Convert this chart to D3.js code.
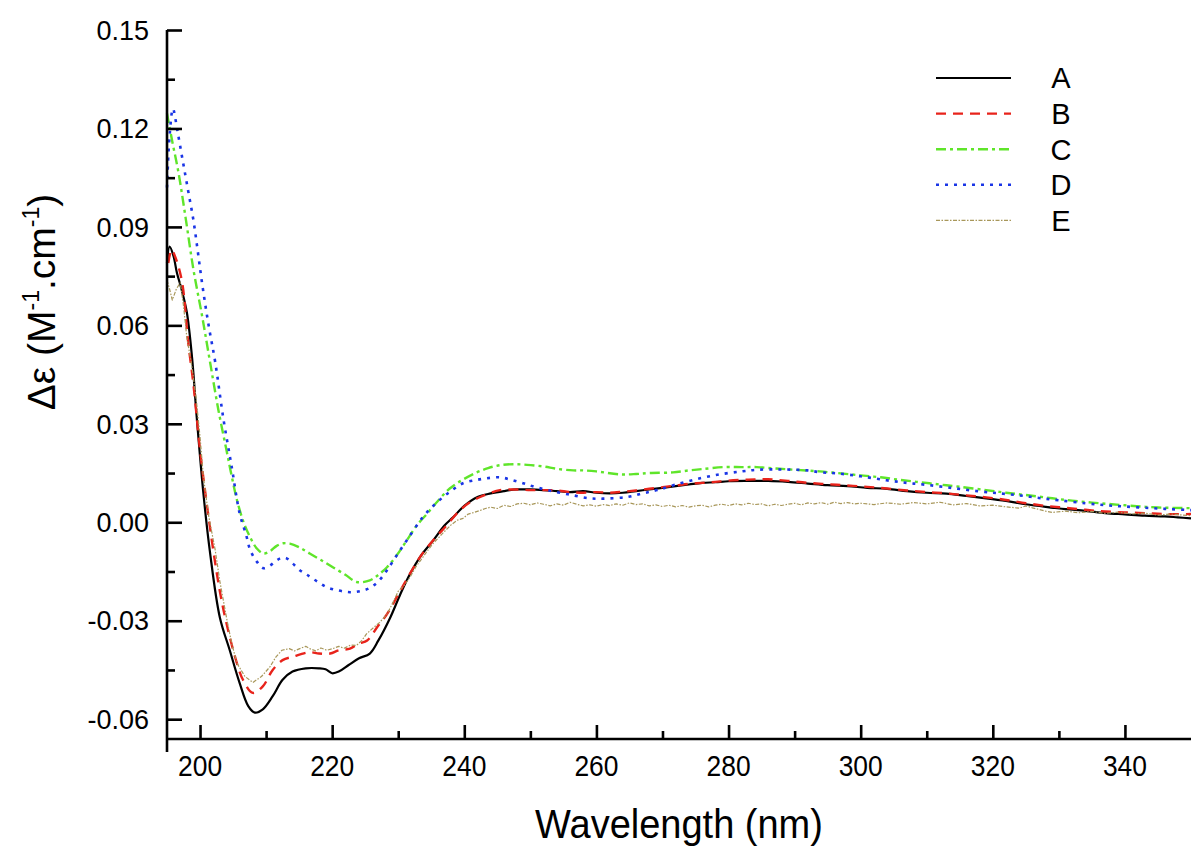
<!DOCTYPE html>
<html><head><meta charset="utf-8">
<script src="https://cdn.jsdelivr.net/npm/d3@7"></script>
<style>body{margin:0;background:#fff}svg{display:block}</style>
</head><body>
<svg id="chart" width="1194" height="859"></svg>
<script>
// ---- data ----
const seriesNames = ["A","B","C","D","E"];
const xTicksMajor = [200,220,240,260,280,300,320,340];
const yTicksMajor = [-0.06,-0.03,0.00,0.03,0.06,0.09,0.12,0.15];
const yTickLabels = ["-0.06","-0.03","0.00","0.03","0.06","0.09","0.12","0.15"];

const seriesA = [[195,0.079],[195.4,0.084],[196,0.081],[196.5,0.076],[197.2,0.071],[198,0.064],[198.8,0.050],[199.5,0.032],[200.5,0.009],[201.5,-0.009],[203,-0.029],[204.5,-0.039],[206,-0.049],[207.3,-0.056],[208.3,-0.058],[209.5,-0.057],[211,-0.053],[212.5,-0.048],[214,-0.0455],[216,-0.0445],[218,-0.0445],[219,-0.0448],[220,-0.046],[221,-0.0455],[222.5,-0.0435],[224,-0.0415],[225.7,-0.040],[227,-0.036],[228.8,-0.029],[230.3,-0.022],[231.8,-0.0157],[233.5,-0.010],[235.3,-0.0055],[237,-0.001],[238.3,0.0015],[240,0.005],[242,0.0077],[244,0.0088],[246,0.0095],[248,0.010],[250,0.010],[252,0.0098],[254,0.0095],[256,0.0092],[258,0.0095],[260,0.009],[262,0.0088],[264,0.009],[266,0.0095],[268,0.010],[270,0.0105],[272,0.011],[274,0.0115],[276,0.012],[278,0.0122],[280,0.0125],[283,0.0126],[286,0.0126],[289,0.0123],[292,0.0118],[295,0.0113],[298,0.011],[301,0.0105],[304,0.0102],[307,0.0095],[310,0.009],[313,0.0087],[316,0.008],[319,0.0073],[322,0.0065],[325,0.0055],[328,0.0047],[331,0.004],[334,0.0035],[337,0.0028],[340,0.0024],[343,0.002],[346,0.0018],[348,0.0015],[350,0.0012]];

const seriesB = [[195.2,0.079],[195.7,0.083],[196.4,0.080],[197.3,0.073],[198.2,0.055],[199,0.042],[200,0.022],[200.8,0.009],[202,-0.0085],[203,-0.021],[203.8,-0.029],[205.3,-0.041],[206.5,-0.048],[208,-0.052],[209.5,-0.050],[211,-0.045],[212.5,-0.042],[214,-0.041],[216.6,-0.0396],[218,-0.040],[219.7,-0.040],[221,-0.039],[222.7,-0.0385],[224,-0.037],[225.3,-0.036],[226.8,-0.032],[228.3,-0.028],[230,-0.022],[231.8,-0.0156],[233.5,-0.010],[235.3,-0.0055],[237.3,-0.001],[239.3,0.0036],[240.8,0.006],[242.4,0.0077],[244,0.009],[245.4,0.0098],[248,0.010],[250,0.0098],[252,0.0098],[254,0.0097],[256,0.0092],[258,0.009],[260,0.0092],[262,0.009],[264,0.0093],[266,0.0097],[268,0.0102],[270,0.0107],[272,0.0112],[274,0.0117],[276,0.012],[278,0.0123],[280,0.0127],[283,0.013],[286,0.0131],[289,0.0126],[292,0.012],[295,0.0116],[298,0.0112],[301,0.0108],[304,0.0103],[307,0.0097],[310,0.0092],[313,0.0088],[316,0.0082],[319,0.0076],[322,0.0068],[325,0.0058],[328,0.005],[331,0.0044],[334,0.0038],[337,0.0033],[340,0.003],[343,0.0028],[346,0.0025],[350,0.0025]];

const seriesC = [[195,0.1246],[195.8,0.116],[196.7,0.107],[197.8,0.093],[199,0.077],[200.3,0.063],[201.5,0.049],[202.8,0.034],[204,0.022],[204.8,0.014],[205.6,0.0067],[206.6,0.0],[207.6,-0.0046],[208.6,-0.008],[209.6,-0.0095],[210.6,-0.0088],[211.6,-0.0072],[212.6,-0.0064],[213.6,-0.0065],[215,-0.0076],[216.6,-0.0095],[218.3,-0.0115],[220.1,-0.0137],[222,-0.016],[223.7,-0.0182],[225.7,-0.0177],[227,-0.016],[228.3,-0.0137],[229.8,-0.010],[231.3,-0.0055],[232.8,-0.001],[234.4,0.0027],[236,0.0065],[237.8,0.0103],[239.8,0.013],[241.9,0.0152],[243.6,0.0165],[245.4,0.0174],[247.4,0.0177],[249.5,0.0175],[252,0.017],[254,0.0163],[256.5,0.0158],[258,0.0158],[260,0.0155],[263.6,0.0146],[266,0.0147],[268,0.015],[271.6,0.0152],[274,0.0158],[276,0.0162],[279.2,0.0168],[282,0.0168],[284.3,0.0168],[287,0.0164],[290,0.016],[293.8,0.0155],[296.4,0.015],[300,0.0143],[303,0.0137],[306,0.0129],[309,0.0122],[312,0.0115],[315,0.0108],[319,0.0098],[322,0.009],[325,0.0083],[329,0.0073],[332,0.0066],[335,0.006],[338,0.0055],[341.8,0.0049],[345,0.0045],[350,0.0043]];

const seriesD = [[195,0.102],[195.4,0.118],[195.9,0.126],[196.6,0.119],[197.4,0.110],[198.2,0.101],[199,0.092],[200.4,0.0716],[201.3,0.060],[202.3,0.0488],[203.5,0.032],[204.8,0.0168],[206,0.0027],[207,-0.004],[207.6,-0.0085],[208.6,-0.012],[209.6,-0.014],[210.6,-0.0132],[211.6,-0.0116],[212.4,-0.0108],[213.1,-0.011],[214,-0.0125],[215.1,-0.0146],[216.2,-0.016],[217.7,-0.018],[219.2,-0.0198],[221,-0.0208],[222.7,-0.0213],[224.2,-0.021],[225.7,-0.020],[227,-0.018],[228.3,-0.0146],[229.8,-0.010],[231.3,-0.0055],[233.7,0.0015],[235.3,0.005],[236.8,0.0077],[238.3,0.010],[239.8,0.0119],[241.6,0.0128],[243.4,0.0134],[245.4,0.0137],[247,0.013],[248.9,0.0119],[251,0.0106],[254,0.0092],[256.5,0.0082],[259,0.0073],[261,0.0072],[264.6,0.0077],[267,0.0088],[269.2,0.0098],[272,0.0115],[275.7,0.0134],[279,0.0147],[282,0.0155],[284.3,0.016],[288,0.0161],[291.9,0.0158],[294,0.0152],[296.4,0.0149],[300,0.014],[303.9,0.0128],[307,0.012],[310,0.0114],[314,0.0104],[318,0.0094],[321,0.0088],[324,0.0082],[327,0.0074],[330,0.0067],[334,0.0058],[337,0.0052],[340,0.0048],[344,0.0043],[347,0.004],[350,0.0037]];

const seriesE = [[195,0.0738],[195.4,0.071],[195.8,0.0677],[196.4,0.071],[197,0.073],[197.5,0.066],[198,0.0564],[198.8,0.047],[199.4,0.038],[200,0.026],[200.5,0.014],[201.3,0.002],[202.3,-0.0085],[203,-0.018],[204,-0.029],[204.8,-0.037],[205.6,-0.043],[206.8,-0.047],[208,-0.0488],[209.3,-0.047],[210.6,-0.044],[211.5,-0.041],[212.4,-0.039],[213.5,-0.0385],[214.3,-0.0392],[215.1,-0.0385],[216,-0.0378],[216.6,-0.0385],[217.5,-0.0392],[218.3,-0.0383],[219.2,-0.039],[220.1,-0.0385],[221,-0.0378],[221.8,-0.0384],[222.8,-0.0374],[223.7,-0.0375],[224.5,-0.036],[225.2,-0.034],[226.2,-0.0322],[227.2,-0.0305],[228.3,-0.028],[229.2,-0.0245],[230,-0.021],[231,-0.019],[231.8,-0.0167],[232.7,-0.0135],[233.6,-0.011],[234.5,-0.0085],[235.3,-0.0064],[236.2,-0.0045],[237,-0.0028],[238,-0.0008],[238.9,0.0006],[239.8,0.0012],[240.6,0.0025],[241.5,0.003],[242.4,0.0036],[243.2,0.0042],[244,0.0046],[245,0.0042],[246,0.0052],[247,0.0048],[248,0.0056],[249,0.0058],[250,0.0053],[251,0.0059],[252,0.0055],[253,0.005],[254,0.0056],[255,0.0052],[256,0.0061],[257,0.0055],[258,0.005],[259,0.0053],[260,0.0049],[261,0.0054],[262,0.0051],[263,0.0056],[264,0.0052],[265,0.0059],[266,0.0054],[267,0.0056],[268,0.005],[269,0.0053],[270,0.0048],[271,0.0052],[272,0.0047],[273,0.0051],[274,0.0046],[275,0.005],[276,0.0052],[277,0.0047],[278,0.0052],[279,0.0055],[280,0.0051],[281,0.0056],[282,0.0053],[283,0.0058],[284,0.0054],[285,0.0056],[286,0.005],[287,0.0055],[288,0.0051],[289,0.0055],[290,0.0058],[291,0.0053],[292,0.0059],[293,0.0056],[294,0.006],[295,0.0055],[296,0.0061],[297,0.0057],[298,0.006],[299,0.0056],[300,0.0058],[302,0.0054],[304,0.0059],[306,0.0055],[308,0.006],[310,0.0056],[312,0.0061],[314,0.0053],[316,0.0057],[318,0.005],[320,0.0052],[322,0.0047],[324,0.0043],[325,0.005],[326,0.0044],[328,0.0034],[329,0.003],[331,0.0034],[333,0.0029],[335,0.0033],[337,0.0027],[339,0.0031],[341,0.0025],[343,0.0028],[345,0.0022],[347,0.0025],[350,0.002]];

// ---- styles ----
const styles = [
  {color:"#000000", width:2.2, dash:null, curve:d3.curveCatmullRom},
  {color:"#e8231b", width:2.4, dash:"10,7", curve:d3.curveCatmullRom},
  {color:"#5fe52a", width:2.4, dash:"10,4,3,4", curve:d3.curveCatmullRom},
  {color:"#1a35e6", width:2.6, dash:"3,6", curve:d3.curveCatmullRom},
  {color:"#a8975a", width:1.2, dash:"4,1.5,1.5,1.5", curve:d3.curveLinear}
];
const allSeries = [seriesA, seriesB, seriesC, seriesD, seriesE];

const svg = d3.select("#chart");
const x = d3.scaleLinear().domain([195,350]).range([167,1191]);
const y = d3.scaleLinear().domain([-0.07,0.15]).range([752,30]);
const xAxisY = 739;
const FONT = "Liberation Sans, Arial, sans-serif";

const plot = svg.append("g");
allSeries.forEach((s,i)=>{
  const st = styles[i];
  plot.append("path")
    .datum(s)
    .attr("fill","none")
    .attr("stroke",st.color)
    .attr("stroke-width",st.width)
    .attr("stroke-dasharray",st.dash)
    .attr("stroke-linejoin","round")
    .attr("d", d3.line().x(d=>x(d[0])).y(d=>y(d[1])).curve(st.curve));
});

// y axis
const yAxisG = svg.append("g").attr("transform","translate(167,0)");
yAxisG.call(d3.axisRight(y).tickValues(yTicksMajor).tickSize(15).tickFormat(""));
yAxisG.append("g").call(d3.axisRight(y).tickValues([-0.045,-0.015,0.015,0.045,0.075,0.105,0.135]).tickSize(8).tickFormat(""));
yAxisG.selectAll(".domain").remove();
yAxisG.append("line").attr("x1",0).attr("x2",0).attr("y1",y(0.15)).attr("y2",y(-0.07));
yAxisG.selectAll("line").attr("stroke","#000").attr("stroke-width",2.6);

svg.append("g").selectAll("text").data(yTicksMajor).enter().append("text")
  .attr("x",149).attr("y",d=>y(d)).attr("dy","0.36em")
  .attr("text-anchor","end")
  .attr("fill","#000")
  .attr("font-family",FONT)
  .attr("font-size",27)
  .text((d,i)=>yTickLabels[i]);

// x axis
const xAxisG = svg.append("g").attr("transform",`translate(0,${xAxisY})`);
xAxisG.call(d3.axisTop(x).tickValues(xTicksMajor).tickSize(14).tickFormat(""));
xAxisG.append("g").call(d3.axisTop(x).tickValues([210,230,250,270,290,310,330]).tickSize(8).tickFormat(""));
xAxisG.selectAll(".domain").remove();
xAxisG.append("line").attr("x1",167).attr("x2",1191).attr("y1",0).attr("y2",0);
xAxisG.selectAll("line").attr("stroke","#000").attr("stroke-width",2.6);

svg.append("g").selectAll("text").data(xTicksMajor).enter().append("text")
  .attr("transform",d=>`translate(${x(d)},${xAxisY+37}) scale(0.88,1)`)
  .attr("text-anchor","middle")
  .attr("fill","#000")
  .attr("font-family",FONT)
  .attr("font-size",30)
  .text(d=>d);

// axis titles
svg.append("text")
  .attr("transform","translate(679,838) scale(0.95,1)")
  .attr("text-anchor","middle")
  .attr("fill","#000")
  .attr("font-family",FONT)
  .attr("font-size",40)
  .text("Wavelength (nm)");

const yt = svg.append("text")
  .attr("transform","translate(55,302) rotate(-90)")
  .attr("text-anchor","middle")
  .attr("fill","#000")
  .attr("font-family",FONT)
  .attr("font-size",39);
yt.append("tspan").text("Δε (M");
yt.append("tspan").attr("font-size",23).attr("dy",-16).text("-1");
yt.append("tspan").attr("dy",16).text(".cm");
yt.append("tspan").attr("font-size",23).attr("dy",-16).text("-1");
yt.append("tspan").attr("dy",16).text(")");

// legend
const legendY0 = 78, legendStep = 35.6;
const lg = svg.append("g");
seriesNames.forEach((n,i)=>{
  const st = styles[i];
  const yy = legendY0 + i*legendStep;
  lg.append("line").attr("x1",936).attr("x2",1011).attr("y1",yy).attr("y2",yy)
    .attr("stroke",st.color).attr("stroke-width",st.width).attr("stroke-dasharray",st.dash);
  lg.append("text").attr("x",1061).attr("y",yy).attr("dy","0.36em")
    .attr("text-anchor","middle")
    .attr("fill","#000")
    .attr("font-family",FONT)
    .attr("font-size",29).text(n);
});
</script>
</body></html>
